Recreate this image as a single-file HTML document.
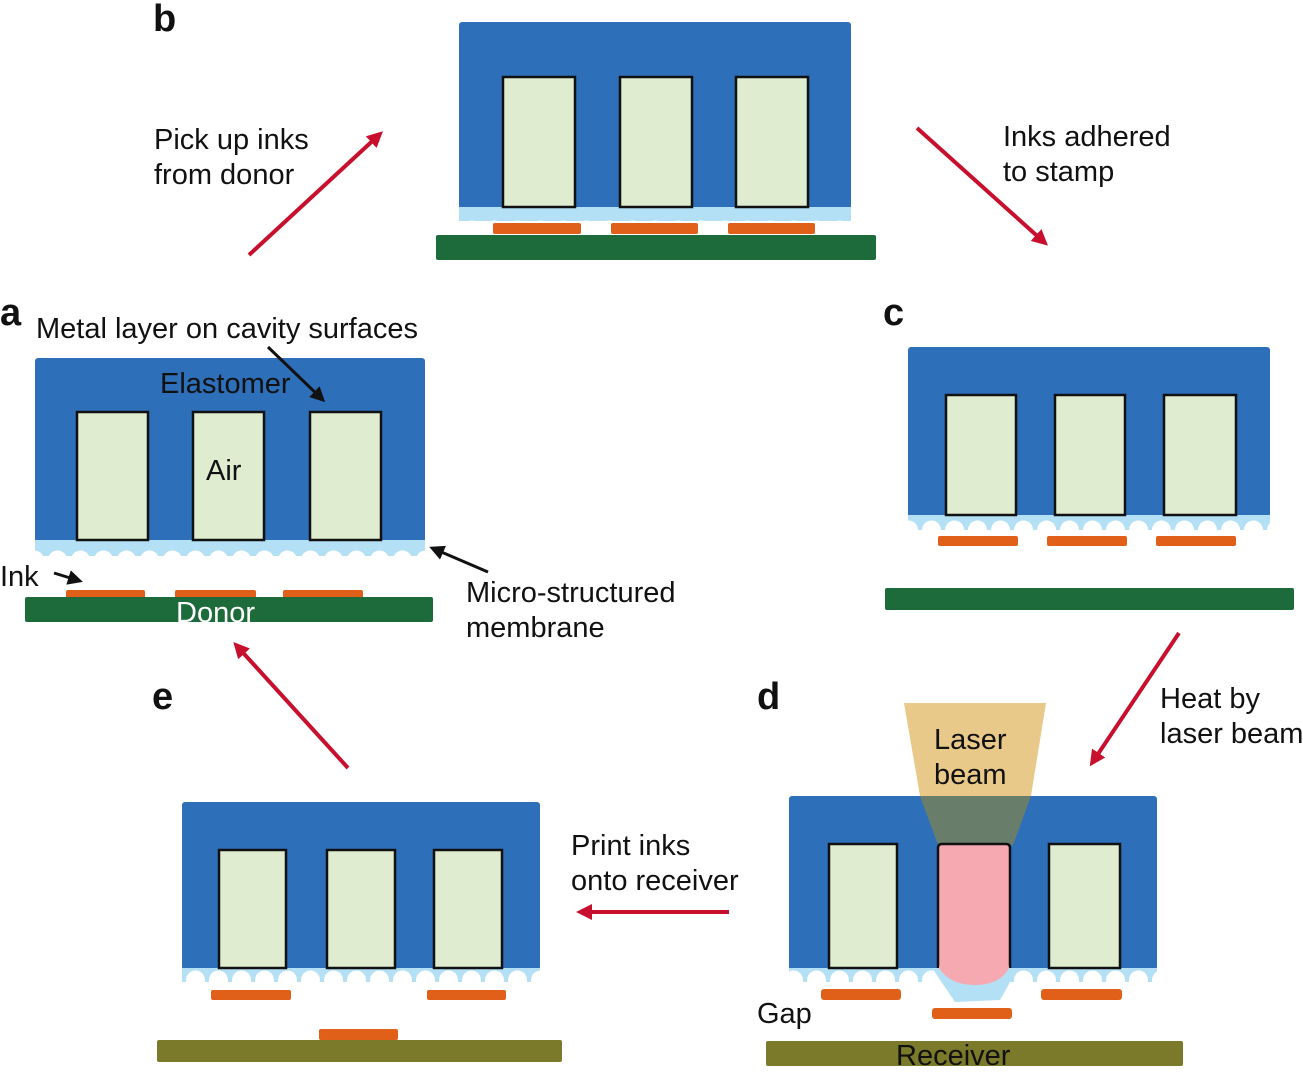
<!DOCTYPE html>
<html><head><meta charset="utf-8"><style>
html,body{margin:0;padding:0;background:#fff}
svg{display:block}
text{font-family:"Liberation Sans",sans-serif;font-size:29px;fill:#111}
.lbl{font-weight:bold;font-size:38px}
</style></head><body>
<svg width="1303" height="1076" viewBox="0 0 1303 1076" xmlns="http://www.w3.org/2000/svg">
<defs>
<marker id="ra" markerWidth="4" markerHeight="4" refX="3" refY="2" orient="auto" markerUnits="strokeWidth"><path d="M0,0 L4,2 L0,4 z" fill="#c8102e"/></marker>
<marker id="ka" markerWidth="5" markerHeight="5" refX="4" refY="2.5" orient="auto" markerUnits="strokeWidth"><path d="M0,0 L5,2.5 L0,5 z" fill="#111"/></marker>
<pattern id="scal" x="0" y="0" width="23" height="30" patternUnits="userSpaceOnUse"><circle cx="11.5" cy="20" r="9.5" fill="#fff"/></pattern>
</defs>
<g stroke="none">
<rect x="459" y="22" width="392" height="187" fill="#2e6fba" rx="3"/>
<rect x="459" y="207" width="392" height="22" fill="#b3e0f5"/>
<rect x="459" y="210" width="392" height="20" fill="url(#scal)"/>
<rect x="459" y="221" width="392" height="10" fill="#fff"/>
<g fill="#dfeccf" stroke="#111" stroke-width="2.5"><rect x="503" y="77" width="72" height="130"/><rect x="620" y="77" width="72" height="130"/><rect x="736" y="77" width="72" height="130"/></g>
<g fill="#e0601a"><rect x="493" y="223" width="88" height="11" rx="2"/><rect x="611" y="223" width="87" height="11" rx="2"/><rect x="728" y="223" width="87" height="11" rx="2"/></g>
<rect x="436" y="235" width="440" height="25" fill="#1d6b3a" rx="2"/>

<rect x="908" y="347" width="362" height="170" fill="#2e6fba" rx="3"/>
<rect x="908" y="515" width="362" height="20" fill="#b3e0f5"/>
<rect x="908" y="517" width="362" height="20" fill="url(#scal)"/>
<rect x="908" y="530" width="362" height="8" fill="#fff"/>
<g fill="#dfeccf" stroke="#111" stroke-width="2.5"><rect x="946" y="395" width="70" height="120"/><rect x="1055" y="395" width="70" height="120"/><rect x="1164" y="395" width="72" height="120"/></g>
<g fill="#e0601a"><rect x="938" y="536" width="80" height="10" rx="2"/><rect x="1047" y="536" width="80" height="10" rx="2"/><rect x="1156" y="536" width="80" height="10" rx="2"/></g>
<rect x="885" y="588" width="409" height="22" fill="#1d6b3a" rx="2"/>

<rect x="35" y="358" width="390" height="184" fill="#2e6fba" rx="3"/>
<rect x="35" y="540" width="390" height="24" fill="#b3e0f5"/>
<rect x="35" y="544" width="390" height="20" fill="url(#scal)"/>
<rect x="35" y="556" width="390" height="10" fill="#fff"/>
<g fill="#dfeccf" stroke="#111" stroke-width="2.5"><rect x="77" y="412" width="71" height="128"/><rect x="193" y="412" width="71" height="128"/><rect x="310" y="412" width="71" height="128"/></g>
<g fill="#e0601a"><rect x="66" y="590" width="79" height="9" rx="2"/><rect x="175" y="590" width="81" height="9" rx="2"/><rect x="283" y="590" width="80" height="9" rx="2"/></g>
<rect x="25" y="597" width="408" height="25" fill="#1d6b3a" rx="2"/>

<rect x="789" y="796" width="368" height="174" fill="#2e6fba" rx="3"/>
<rect x="789" y="968" width="368" height="20" fill="#b3e0f5"/>
<rect x="789" y="970" width="368" height="20" fill="url(#scal)"/>
<rect x="789" y="982" width="368" height="8" fill="#fff"/>
<path d="M932,968 L1018,968 L1000,1000 L955,1002 Z" fill="#b3e0f5"/>
<polygon points="904,703 1046,703 1031,796 920,796" fill="#e9c98a"/>
<polygon points="920,796 1031,796 1013,845 938,845" fill="#687d6a"/>
<g fill="#dfeccf" stroke="#111" stroke-width="2.5"><rect x="829" y="844" width="68" height="124"/><rect x="1049" y="844" width="71" height="124"/></g>
<path d="M938,968 L938,848 Q938,844 942,844 L1006,844 Q1010,844 1010,848 L1010,968" fill="#f6a9b0" stroke="#111" stroke-width="2.5"/>
<path d="M939,966 L939,968 Q950,985 975,985 Q1000,985 1009,968 L1009,966 Z" fill="#f6a9b0"/>
<g fill="#e0601a"><rect x="821" y="989" width="80" height="11" rx="3"/><rect x="1041" y="989" width="81" height="11" rx="3"/><rect x="932" y="1008" width="80" height="11" rx="3"/></g>
<rect x="766" y="1041" width="417" height="25" fill="#7a7a2a" rx="2"/>

<rect x="182" y="802" width="358" height="168" fill="#2e6fba" rx="3"/>
<rect x="182" y="968" width="358" height="20" fill="#b3e0f5"/>
<rect x="182" y="970" width="358" height="20" fill="url(#scal)"/>
<rect x="182" y="982" width="358" height="8" fill="#fff"/>
<g fill="#dfeccf" stroke="#111" stroke-width="2.5"><rect x="219" y="850" width="67" height="118"/><rect x="327" y="850" width="68" height="118"/><rect x="434" y="850" width="68" height="118"/></g>
<g fill="#e0601a"><rect x="211" y="990" width="80" height="10" rx="2"/><rect x="427" y="990" width="79" height="10" rx="2"/><rect x="319" y="1029" width="79" height="11" rx="2"/></g>
<rect x="157" y="1040" width="405" height="22" fill="#7a7a2a" rx="2"/>
</g>

<g stroke="#c8102e" stroke-width="4" fill="none" marker-end="url(#ra)">
<line x1="249" y1="255" x2="380" y2="134"/>
<line x1="917" y1="128" x2="1045" y2="243"/>
<line x1="1179" y1="633" x2="1092" y2="763"/>
<line x1="729" y1="912" x2="580" y2="912"/>
<line x1="348" y1="768" x2="236" y2="645"/>
</g>
<g stroke="#111" stroke-width="3" fill="none" marker-end="url(#ka)">
<line x1="268" y1="347" x2="323" y2="400"/>
<line x1="54" y1="573" x2="80" y2="581"/>
<line x1="488" y1="572" x2="432" y2="548"/>
</g>

<text class="lbl" x="153" y="31">b</text>
<text class="lbl" x="0" y="325">a</text>
<text class="lbl" x="883" y="325">c</text>
<text class="lbl" x="757" y="709">d</text>
<text class="lbl" x="152" y="709">e</text>

<text x="154" y="149">Pick up inks</text>
<text x="154" y="184">from donor</text>
<text x="1003" y="146">Inks adhered</text>
<text x="1003" y="181">to stamp</text>
<text x="36" y="338">Metal layer on cavity surfaces</text>
<text x="160" y="393">Elastomer</text>
<text x="206" y="480">Air</text>
<text x="0" y="586">Ink</text>
<text x="176" y="622" style="fill:#fff">Donor</text>
<text x="466" y="602">Micro-structured</text>
<text x="466" y="637">membrane</text>
<text x="1160" y="708">Heat by</text>
<text x="1160" y="743">laser beam</text>
<text x="934" y="749">Laser</text>
<text x="934" y="784">beam</text>
<text x="571" y="855">Print inks</text>
<text x="571" y="890">onto receiver</text>
<text x="757" y="1023">Gap</text>
<text x="896" y="1065">Receiver</text>
</svg>
</body></html>
